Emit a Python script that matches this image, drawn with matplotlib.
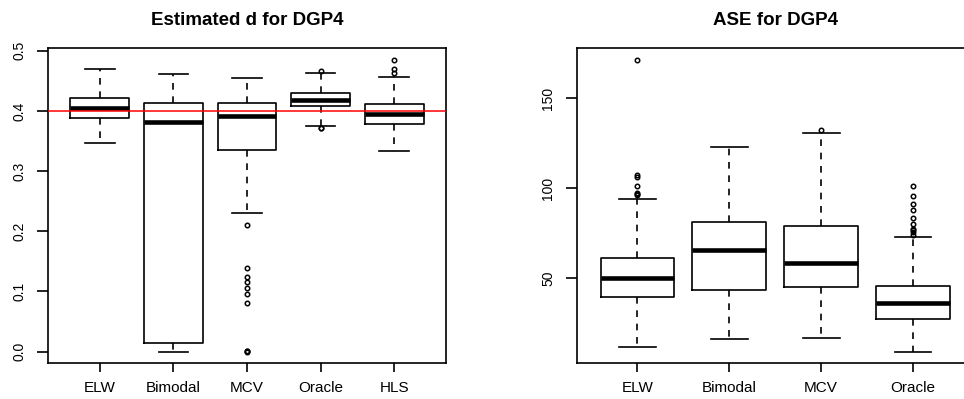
import matplotlib
matplotlib.use('Agg')
import matplotlib.pyplot as plt

plt.rcParams['font.family'] = ['Liberation Sans', 'DejaVu Sans']

# estimated d (left panel)
d_names = ['ELW', 'Bimodal', 'MCV', 'Oracle', 'HLS']
d_whislo = [0.347, 0.000, 0.2304, 0.3757, 0.3326]
d_q1 = [0.3878, 0.0144, 0.3354, 0.4077, 0.3785]
d_med = [0.4044, 0.3812, 0.3917, 0.4182, 0.3945]
d_q3 = [0.421, 0.4138, 0.4138, 0.4298, 0.4116]
d_whishi = [0.4696, 0.4619, 0.4552, 0.463, 0.4558]
d_fliers = [
    [],
    [],
    [0.2099, 0.1392, 0.1243, 0.116, 0.1061, 0.095, 0.0812, 0.0, 0.0006, 0.0012],
    [0.4663, 0.3718, 0.3724],
    [0.4845, 0.469, 0.4624],
]
d_true = 0.4

# ASE (right panel)
ase_names = ['ELW', 'Bimodal', 'MCV', 'Oracle']
ase_whislo = [11.5, 15.9, 16.5, 8.9]
ase_q1 = [39.3, 43.1, 44.8, 27.0]
ase_med = [50.0, 65.7, 58.5, 35.9]
ase_q3 = [61.1, 81.1, 79.1, 45.4]
ase_whishi = [93.7, 123.1, 130.7, 72.6]
ase_fliers = [
    [171.3, 107.4, 106.1, 100.9, 97.0, 96.5, 96.0],
    [],
    [132.4],
    [100.9, 95.4, 91.1, 88.0, 83.1, 80.2, 77.4, 76.7, 75.6, 74.1],
]


def make_stats(names, lo, q1, med, q3, hi, fl):
    out = []
    for i in range(len(names)):
        out.append(dict(label=names[i], whislo=lo[i], q1=q1[i], med=med[i],
                        q3=q3[i], whishi=hi[i], fliers=fl[i]))
    return out


def draw_box(ax, stats):
    n = len(stats)
    ax.bxp(stats, positions=range(1, n + 1), widths=0.8, capwidths=0.4,
           showfliers=True,
           boxprops=dict(color='black', linewidth=1.2),
           whiskerprops=dict(color='black', linewidth=1.2, linestyle=(0, (4, 4))),
           capprops=dict(color='black', linewidth=1.2),
           medianprops=dict(color='black', linewidth=3.3, solid_capstyle='butt'),
           flierprops=dict(marker='o', markerfacecolor='none', markeredgecolor='black',
                           markersize=3.2, markeredgewidth=1.1))
    ax.set_xlim(0.5 - 0.04 * n, n + 0.5 + 0.04 * n)
    for s in ax.spines.values():
        s.set_linewidth(1.2)
    ax.tick_params(axis='x', length=6.5, width=1.2, pad=6, labelsize=11)
    ax.tick_params(axis='y', length=7.6, width=1.2, pad=8, labelsize=10, labelrotation=90)
    for lab in ax.get_yticklabels():
        lab.set_verticalalignment('center')


fig = plt.figure(figsize=(9.64, 3.99), dpi=100)

ax1 = fig.add_axes([48.3 / 964, 35.7 / 399, 397.4 / 964, 315 / 399])
draw_box(ax1, make_stats(d_names, d_whislo, d_q1, d_med, d_q3, d_whishi, d_fliers))
ax1.axhline(d_true, color='red', linewidth=1.1, zorder=5)
ax1.set_ylim(-0.0194, 0.504)
ax1.set_yticks([0.0, 0.1, 0.2, 0.3, 0.4, 0.5])
ax1.set_yticklabels(['0.0', '0.1', '0.2', '0.3', '0.4', '0.5'])
ax1.set_title('Estimated d for DGP4', fontsize=13.5, fontweight='bold', pad=17)

ax2 = fig.add_axes([576.7 / 964, 35.7 / 399, 397 / 964, 315 / 399])
draw_box(ax2, make_stats(ase_names, ase_whislo, ase_q1, ase_med, ase_q3, ase_whishi, ase_fliers))
ax2.set_ylim(2.4, 177.8)
ax2.set_yticks([50, 100, 150])
ax2.set_yticklabels(['50', '100', '150'])
ax2.set_title('ASE for DGP4', fontsize=13.5, fontweight='bold', pad=17)

for ax in (ax1, ax2):
    for lab in ax.get_yticklabels():
        lab.set_verticalalignment('center')

fig.savefig('out.png', dpi=100)
